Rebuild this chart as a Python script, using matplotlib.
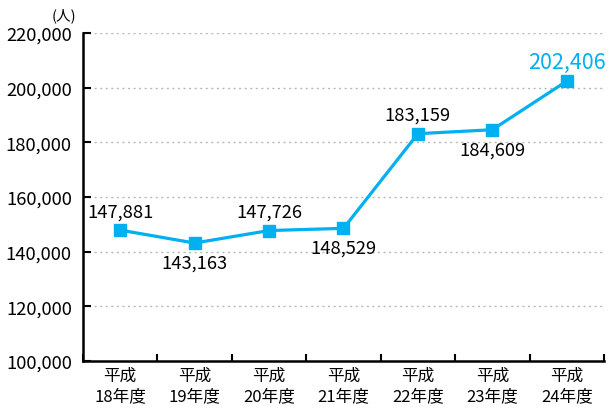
import matplotlib
matplotlib.use("Agg")
import matplotlib.pyplot as plt
from matplotlib.ticker import FuncFormatter, FixedLocator

plt.rcParams['font.family'] = ['Noto Sans CJK JP', 'DejaVu Sans']

# データ
years = ["平成\n18年度", "平成\n19年度", "平成\n20年度", "平成\n21年度",
         "平成\n22年度", "平成\n23年度", "平成\n24年度"]
visitors = [147881, 143163, 147726, 148529, 183159, 184609, 202406]
label_above = [True, False, True, False, True, False, True]

LINE_COLOR = "#00B0F0"

fig = plt.figure(figsize=(6.11, 4.14), dpi=100)
ax = fig.add_axes([0.1358, 0.1256, 0.8527, 0.7923])

x = list(range(len(visitors)))
ax.plot(x, visitors, color=LINE_COLOR, linewidth=2.3, marker='s',
        markersize=8.5, zorder=3)

# 値ラベル
for i, v in enumerate(visitors):
    last = (i == len(visitors) - 1)
    off = 13.5 if label_above[i] else -14
    ax.annotate(f"{v:,}", (i, v), xytext=(0, off), textcoords='offset points',
                ha='center', va='center',
                fontsize=15.5 if last else 13.2,
                color=LINE_COLOR if last else 'black', zorder=4)

ax.set_xlim(-0.5, len(visitors) - 0.5)
ax.set_ylim(100000, 220000)

# y軸
ax.yaxis.set_major_locator(FixedLocator(range(100000, 220001, 20000)))
ax.yaxis.set_major_formatter(FuncFormatter(lambda v, p: f"{int(v):,}"))
for y in range(120000, 220001, 20000):
    ax.axhline(y, color='#b8b8b8', linewidth=1, linestyle=(0, (1.5, 2.5)), zorder=1)

# x軸
ax.set_xticks([i - 0.5 for i in range(len(visitors) + 1)])
ax.set_xticklabels([])
ax.set_xticks(x, minor=True)
ax.set_xticklabels(years, minor=True, fontsize=12, linespacing=1.3)
ax.tick_params(axis='x', which='minor', length=0, pad=4)
ax.tick_params(axis='x', which='major', direction='in', length=5, width=1.5)
ax.tick_params(axis='y', direction='in', length=6, width=1.5, labelsize=13.2, pad=8)

for s in ['top', 'right']:
    ax.spines[s].set_visible(False)
for s in ['left', 'bottom']:
    ax.spines[s].set_linewidth(1.8)

fig.text(0.104, 0.962, "(人)", ha='center', va='center', fontsize=10.5)

fig.savefig("out.png", dpi=100)
